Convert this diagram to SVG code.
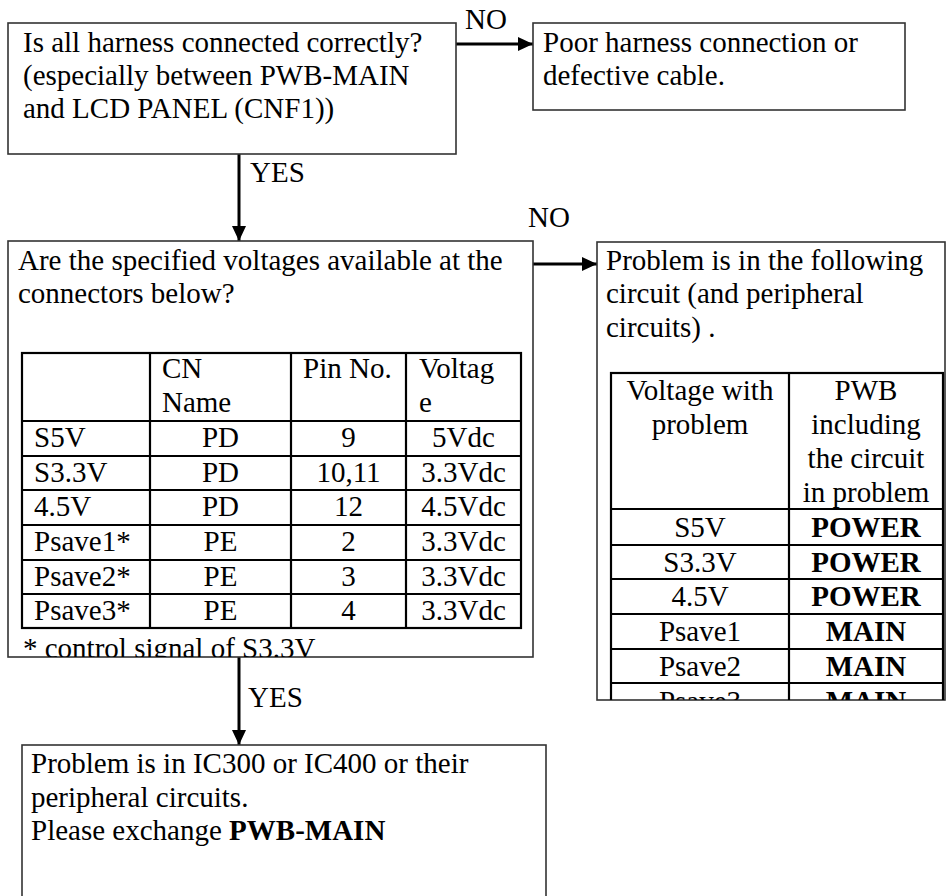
<svg xmlns="http://www.w3.org/2000/svg" width="946" height="896" viewBox="0 0 946 896">
<style>
text{font-family:"Liberation Serif","Times New Roman",serif;font-size:29px;fill:#000}
.box{fill:#fff;stroke:#333;stroke-width:1.6}
.tbl{fill:none;stroke:#000;stroke-width:2.2}
.c{text-anchor:middle}
.b{font-weight:bold}
.conn{stroke:#000;stroke-width:3;fill:none}
</style>
<defs>
<marker id="ah" markerWidth="15" markerHeight="14" refX="15" refY="7" orient="auto" markerUnits="userSpaceOnUse">
<path d="M0,0 L15,7 L0,14 Z" fill="#000"/>
</marker>
<clipPath id="clip3"><rect x="8" y="241" width="525" height="416"/></clipPath>
<clipPath id="clip5"><rect x="597" y="242" width="348" height="458"/></clipPath>
</defs>

<g id="connectors">
<line class="conn" x1="456" y1="44" x2="533" y2="44" marker-end="url(#ah)"/>
<text x="465" y="29">NO</text>
<line class="conn" x1="239" y1="154" x2="239" y2="241" marker-end="url(#ah)"/>
<text x="250" y="182">YES</text>
<line class="conn" x1="533" y1="264" x2="597" y2="264" marker-end="url(#ah)"/>
<text x="528" y="227">NO</text>
<line class="conn" x1="239" y1="657" x2="239" y2="745" marker-end="url(#ah)"/>
<text x="248" y="707">YES</text>
</g>

<g id="node-harness">
<rect class="box" x="8" y="23" width="448" height="131"/>
<text x="23" y="52">Is all harness connected correctly?</text>
<text x="23" y="85">(especially between PWB-MAIN</text>
<text x="23" y="118">and LCD PANEL (CNF1))</text>
</g>

<g id="node-poor-harness">
<rect class="box" x="533" y="23" width="372" height="87"/>
<text x="543" y="52">Poor harness connection or</text>
<text x="543" y="85">defective cable.</text>
</g>

<g id="node-voltages">
<rect class="box" x="8" y="241" width="525" height="416"/>
<g clip-path="url(#clip3)">
<text x="18" y="270">Are the specified voltages available at the</text>
<text x="18" y="303">connectors below?</text>
<rect class="tbl" x="22" y="353" width="499" height="275"/>
<path class="tbl" d="M22,421H521M22,456H521M22,490H521M22,525H521M22,560H521M22,594H521M150,353V628M291,353V628M406,353V628"/>
<text x="162" y="378">CN</text>
<text x="162" y="412">Name</text>
<text x="303" y="378">Pin No.</text>
<text x="419" y="378">Voltag</text>
<text x="419" y="412">e</text>
<text x="34" y="447">S5V</text><text class="c" x="220.5" y="447">PD</text><text class="c" x="348.5" y="447">9</text><text class="c" x="463.5" y="447">5Vdc</text>
<text x="34" y="482">S3.3V</text><text class="c" x="220.5" y="482">PD</text><text class="c" x="348.5" y="482">10,11</text><text class="c" x="463.5" y="482">3.3Vdc</text>
<text x="34" y="516">4.5V</text><text class="c" x="220.5" y="516">PD</text><text class="c" x="348.5" y="516">12</text><text class="c" x="463.5" y="516">4.5Vdc</text>
<text x="34" y="551">Psave1*</text><text class="c" x="220.5" y="551">PE</text><text class="c" x="348.5" y="551">2</text><text class="c" x="463.5" y="551">3.3Vdc</text>
<text x="34" y="586">Psave2*</text><text class="c" x="220.5" y="586">PE</text><text class="c" x="348.5" y="586">3</text><text class="c" x="463.5" y="586">3.3Vdc</text>
<text x="34" y="620">Psave3*</text><text class="c" x="220.5" y="620">PE</text><text class="c" x="348.5" y="620">4</text><text class="c" x="463.5" y="620">3.3Vdc</text>
<text x="23" y="658">* control signal of S3.3V</text>
</g>
</g>

<g id="node-circuit-problem">
<rect class="box" x="597" y="242" width="348" height="458"/>
<g clip-path="url(#clip5)">
<text x="606" y="270">Problem is in the following</text>
<text x="606" y="303">circuit (and peripheral</text>
<text x="606" y="337">circuits) .</text>
<rect class="tbl" x="611" y="373" width="332" height="360"/>
<path class="tbl" d="M611,509H943M611,545H943M611,579H943M611,614H943M611,649H943M611,683H943M789,373V733"/>
<text class="c" x="700" y="400">Voltage with</text>
<text class="c" x="700" y="434">problem</text>
<text class="c" x="866" y="400">PWB</text>
<text class="c" x="866" y="434">including</text>
<text class="c" x="866" y="468">the circuit</text>
<text class="c" x="866" y="502">in problem</text>
<text class="c" x="700" y="537">S5V</text><text class="c b" x="866" y="537">POWER</text>
<text class="c" x="700" y="572">S3.3V</text><text class="c b" x="866" y="572">POWER</text>
<text class="c" x="700" y="606">4.5V</text><text class="c b" x="866" y="606">POWER</text>
<text class="c" x="700" y="641">Psave1</text><text class="c b" x="866" y="641">MAIN</text>
<text class="c" x="700" y="676">Psave2</text><text class="c b" x="866" y="676">MAIN</text>
<text class="c" x="700" y="711">Psave3</text><text class="c b" x="866" y="711">MAIN</text>
</g>
</g>

<g id="node-exchange-main">
<rect class="box" x="22" y="745" width="524" height="170"/>
<text x="31" y="773">Problem is in IC300 or IC400 or their</text>
<text x="31" y="807">peripheral circuits.</text>
<text x="31" y="840">Please exchange <tspan class="b">PWB-MAIN</tspan></text>
</g>
</svg>
